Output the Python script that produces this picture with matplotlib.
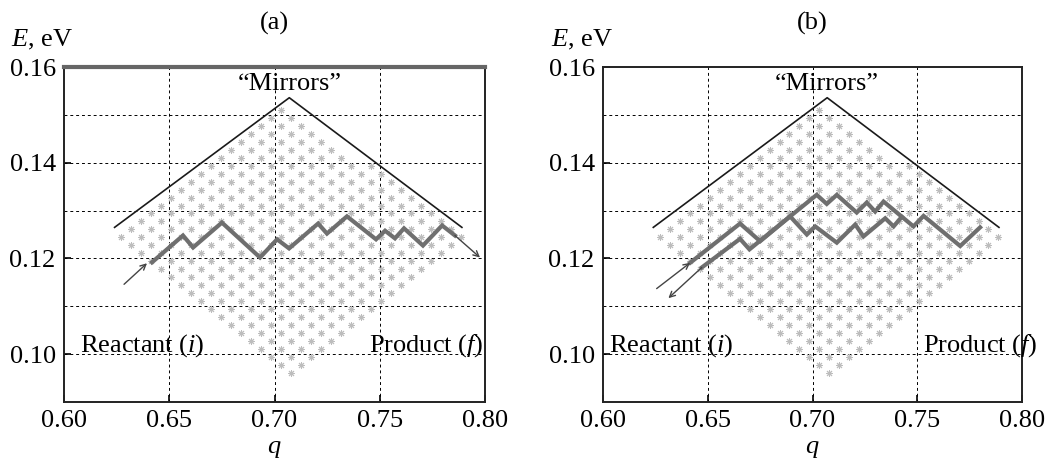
import numpy as np
import matplotlib.pyplot as plt

plt.rcParams['font.family'] = ['Liberation Serif', 'DejaVu Serif']
plt.rcParams['mathtext.fontset'] = 'custom'
plt.rcParams['mathtext.it'] = 'Liberation Serif:italic'
plt.rcParams['mathtext.rm'] = 'Liberation Serif'

# "mirror" boundary (same in both panels)
mirror_q = [0.624, 0.707, 0.789]
mirror_E = [0.1265, 0.1536, 0.1265]

# lattice of states (diamond below the mirrors)
lat_q0 = 0.708
lat_dq = 0.00475
lat_E0 = 0.096
lat_dE = 0.00167
lat_rows = 34

# panel (a) trajectory
path_a_q = [0.6418, 0.6565, 0.6613, 0.6750, 0.6931, 0.7012, 0.7069, 0.7207, 0.7249,
            0.7344, 0.7482, 0.7525, 0.7572, 0.7615, 0.7705, 0.7796, 0.7857]
path_a_E = [0.1192, 0.1248, 0.1223, 0.1275, 0.1202, 0.1240, 0.1221, 0.1273, 0.1252,
            0.1288, 0.1240, 0.1258, 0.1242, 0.1263, 0.1227, 0.1269, 0.1248]
arrow_a_in = [(0.6285, 0.1146), (0.6394, 0.1190)]
arrow_a_out = [(0.7857, 0.1248), (0.7976, 0.1202)]

# panel (b) trajectory: going in (upper) and coming back (lower)
path_b1_q = [0.6416, 0.6654, 0.6750, 0.6893, 0.7020, 0.7068, 0.7116, 0.7211, 0.7259,
             0.7299, 0.7339, 0.7482, 0.7530, 0.7705, 0.7800]
path_b1_E = [0.1191, 0.1273, 0.1236, 0.1288, 0.1333, 0.1314, 0.1333, 0.1296, 0.1317,
             0.1298, 0.1319, 0.1267, 0.1289, 0.1226, 0.1265]
path_b2_q = [0.6471, 0.6654, 0.6699, 0.6893, 0.6973, 0.7013, 0.7116, 0.7204, 0.7243,
             0.7347, 0.7387, 0.7426]
path_b2_E = [0.1181, 0.1241, 0.1219, 0.1288, 0.1250, 0.1267, 0.1233, 0.1271, 0.1246,
             0.1284, 0.1267, 0.1287]
arrow_b_in = [(0.6256, 0.1137), (0.6416, 0.1191)]
arrow_b_out = [(0.6471, 0.1181), (0.6312, 0.1117)]

xticks = [0.60, 0.65, 0.70, 0.75, 0.80]
yticks = [0.10, 0.12, 0.14, 0.16]
ygrid = [0.10, 0.11, 0.12, 0.13, 0.14, 0.15]

# lattice points
lq, lE = [], []
for j in range(lat_rows):
    for i in range(-j, j + 1, 2):
        q = lat_q0 + i * lat_dq
        E = lat_E0 + j * lat_dE
        if E <= np.interp(q, mirror_q, mirror_E) - 0.0012:
            lq.append(q)
            lE.append(E)

path_col = '#6f6f6f'
fs = 19

fig = plt.figure(figsize=(10.57, 4.69), dpi=100)
ax_a = fig.add_axes([0.0606, 0.1429, 0.3983, 0.714])
ax_b = fig.add_axes([0.5705, 0.1429, 0.3964, 0.714])


def setup(ax, label):
    ax.set_xlim(0.60, 0.80)
    ax.set_ylim(0.09, 0.16)
    ax.set_xticks(xticks)
    ax.set_xticklabels([f"{t:.2f}" for t in xticks], fontsize=fs)
    ax.set_yticks(yticks)
    ax.set_yticklabels([f"{t:.2f}" for t in yticks], fontsize=fs)
    ax.tick_params(direction='in', length=5, width=1.2, pad=6)
    for x in [0.65, 0.70, 0.75]:
        ax.axvline(x, color='black', ls=(0, (3, 3)), lw=0.7, zorder=0)
    for y in ygrid:
        ax.axhline(y, color='black', ls=(0, (3, 3)), lw=0.7, zorder=0)
    for s in ax.spines.values():
        s.set_linewidth(1.4)
        s.set_color('#222222')
    ax.plot(lq, lE, ls='none', marker=(8, 2, 0), ms=5, mew=0.7,
            color='#bdbdbd', zorder=1)
    ax.plot(mirror_q, mirror_E, color='#1a1a1a', lw=1.2, zorder=3)
    ax.text(0.707, 0.1565, '\u201cMirrors\u201d', ha='center', va='center', fontsize=fs)
    ax.set_xlabel('$q$', fontsize=fs, labelpad=4)
    ax.text(0.5, 1.13, label, transform=ax.transAxes, ha='center', va='center',
            fontsize=fs)
    ax.text(-0.125, 1.045, '$E$, eV', transform=ax.transAxes, ha='left',
            va='bottom', fontsize=fs)


def arrow(ax, pts):
    ax.annotate('', xy=pts[1], xytext=pts[0],
                arrowprops=dict(arrowstyle='->', color='#444444', lw=1.0,
                                shrinkA=0, shrinkB=0), zorder=4)


setup(ax_a, '(a)')
ax_a.spines['top'].set_linewidth(3)
ax_a.spines['top'].set_color('#666666')
ax_a.plot(path_a_q, path_a_E, color=path_col, lw=3, solid_joinstyle='miter', zorder=3)
arrow(ax_a, arrow_a_in)
arrow(ax_a, arrow_a_out)
ax_a.text(0.6076, 0.1018, 'Reactant ($i$)', ha='left', va='center', fontsize=fs)
ax_a.text(0.799, 0.1018, 'Product ($f$)', ha='right', va='center', fontsize=fs)

setup(ax_b, '(b)')
ax_b.plot(path_b1_q, path_b1_E, color=path_col, lw=3, solid_joinstyle='miter', zorder=3)
ax_b.plot(path_b2_q, path_b2_E, color=path_col, lw=3, solid_joinstyle='miter', zorder=3)
arrow(ax_b, arrow_b_in)
arrow(ax_b, arrow_b_out)
ax_b.text(0.6027, 0.1018, 'Reactant ($i$)', ha='left', va='center', fontsize=fs)
ax_b.text(0.7526, 0.1018, 'Product ($f$)', ha='left', va='center', fontsize=fs,
          clip_on=False)

fig.savefig('out.png', dpi=100)
